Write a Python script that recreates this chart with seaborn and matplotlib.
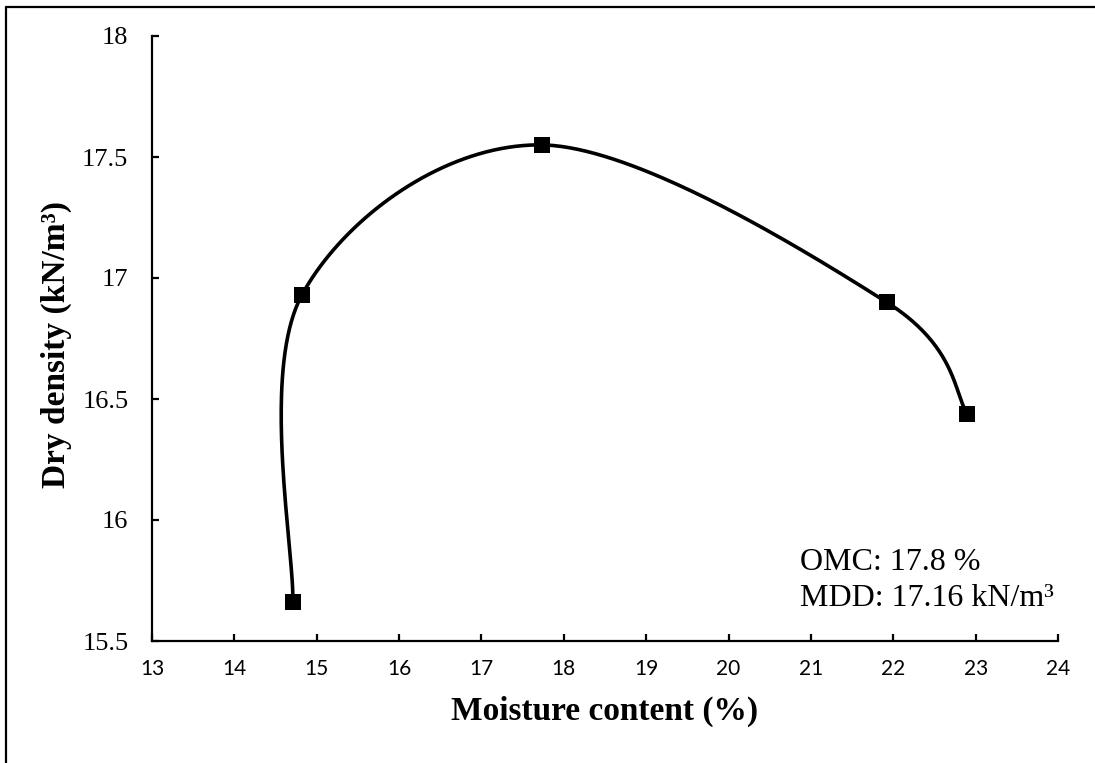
import numpy as np
import pandas as pd
import seaborn as sns
import matplotlib.pyplot as plt
from matplotlib.lines import Line2D

# ---- data ----
moisture = [14.71, 14.82, 17.73, 21.92, 22.90]
density = [15.66, 16.93, 17.55, 16.90, 16.44]
x_ticks = [13, 14, 15, 16, 17, 18, 19, 20, 21, 22, 23, 24]
y_ticks = [15.5, 16, 16.5, 17, 17.5, 18]
y_tick_labels = ["15.5", "16", "16.5", "17", "17.5", "18"]
annot_lines = ["OMC: 17.8 %", "MDD: 17.16 kN/m\u00b3"]
x_label = "Moisture content (%)"
y_label = "Dry density (kN/m\u00b3)"


def excel_smooth(x, y, n=80):
    """Excel-style smoothed line (Catmull-Rom Bezier) through the points."""
    pts = np.column_stack([x, y]).astype(float)
    P = np.vstack([pts[0], pts, pts[-1]])
    out = []
    t = np.linspace(0, 1, n)[:, None]
    for i in range(1, len(P) - 2):
        p0, p1, p2, p3 = P[i - 1], P[i], P[i + 1], P[i + 2]
        c1 = p1 + (p2 - p0) / 6.0
        c2 = p2 - (p3 - p1) / 6.0
        seg = ((1 - t) ** 3) * p1 + 3 * ((1 - t) ** 2) * t * c1 + 3 * (1 - t) * t ** 2 * c2 + t ** 3 * p2
        out.append(seg if i == 1 else seg[1:])
    return np.vstack(out)


curve = excel_smooth(moisture, density)
curve_df = pd.DataFrame({"x": curve[:, 0], "y": curve[:, 1]})
pts_df = pd.DataFrame({"x": moisture, "y": density})

sns.set_theme(style="white")
plt.rcParams["font.family"] = ["Liberation Serif", "DejaVu Serif"]
plt.rcParams["text.color"] = "black"
plt.rcParams["axes.labelcolor"] = "black"
plt.rcParams["xtick.color"] = "black"
plt.rcParams["ytick.color"] = "black"

W, H = 1095, 763
fig = plt.figure(figsize=(W / 100, H / 100), dpi=100)
ax = fig.add_axes([152 / W, 1 - 641 / H, (1058 - 152) / W, (641 - 36) / H])

sns.lineplot(data=curve_df, x="x", y="y", sort=False, estimator=None,
             color="black", linewidth=2.6, ax=ax)
sns.scatterplot(data=pts_df, x="x", y="y", marker="s", s=125, color="black",
                edgecolor="black", linewidth=0, zorder=3, ax=ax)

ax.set_xlim(13, 24)
ax.set_ylim(15.5, 18)
ax.set_xticks(x_ticks)
ax.set_xticklabels([str(v) for v in x_ticks], fontfamily="Lato", fontsize=15)
ax.set_yticks(y_ticks)
ax.set_yticklabels(y_tick_labels, fontfamily="Liberation Serif", fontsize=19)

for s in ["top", "right"]:
    ax.spines[s].set_visible(False)
for s in ["left", "bottom"]:
    ax.spines[s].set_color("black")
    ax.spines[s].set_linewidth(1.6)
ax.tick_params(axis="both", direction="in", length=5, width=1.6, colors="black",
               bottom=True, left=True, top=False, right=False)
ax.tick_params(axis="x", pad=13)
ax.tick_params(axis="y", pad=17)

ax.set_xlabel(x_label, fontfamily="Liberation Serif", fontweight="bold", fontsize=24, labelpad=12)
ax.set_ylabel(y_label, fontfamily="Liberation Serif", fontweight="bold", fontsize=24)
ax.yaxis.set_label_coords(-(152 - 72) / (1058 - 152), 0.49)

fig.text(800 / W, 1 - 570 / H, annot_lines[0], fontfamily="Liberation Serif", fontsize=23,
         ha="left", va="baseline", color="black")
fig.text(800 / W, 1 - 606 / H, annot_lines[1], fontfamily="Liberation Serif", fontsize=23,
         ha="left", va="baseline", color="black")

# outer frame (partially visible in the reference)
fig.add_artist(Line2D([6 / W, 6 / W], [0, 1 - 7 / H], transform=fig.transFigure,
                      color="black", linewidth=1.6))
fig.add_artist(Line2D([6 / W, 1], [1 - 7 / H, 1 - 7 / H], transform=fig.transFigure,
                      color="black", linewidth=1.6))

fig.savefig("out.png", dpi=100)
